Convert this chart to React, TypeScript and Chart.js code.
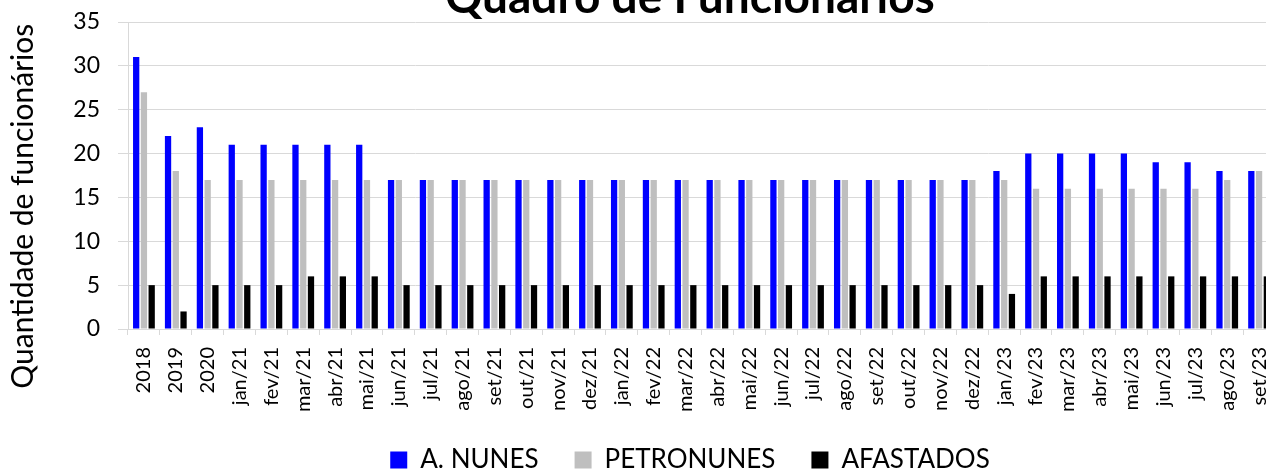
import React, { useEffect, useRef } from "react";
import { Chart, registerables } from "chart.js";

Chart.register(...registerables);

const categories = [
  "2018", "2019", "2020",
  "jan/21", "fev/21", "mar/21", "abr/21", "mai/21", "jun/21", "jul/21", "ago/21", "set/21", "out/21", "nov/21", "dez/21",
  "jan/22", "fev/22", "mar/22", "abr/22", "mai/22", "jun/22", "jul/22", "ago/22", "set/22", "out/22", "nov/22", "dez/22",
  "jan/23", "fev/23", "mar/23", "abr/23", "mai/23", "jun/23", "jul/23", "ago/23", "set/23",
];

const aNunes = [
  31, 22, 23,
  21, 21, 21, 21, 21, 17, 17, 17, 17, 17, 17, 17,
  17, 17, 17, 17, 17, 17, 17, 17, 17, 17, 17, 17,
  18, 20, 20, 20, 20, 19, 19, 18, 18,
];

const petronunes = [
  27, 18, 17,
  17, 17, 17, 17, 17, 17, 17, 17, 17, 17, 17, 17,
  17, 17, 17, 17, 17, 17, 17, 17, 17, 17, 17, 17,
  17, 16, 16, 16, 16, 16, 16, 17, 18,
];

const afastados = [
  5, 2, 5,
  5, 5, 6, 6, 6, 5, 5, 5, 5, 5, 5, 5,
  5, 5, 5, 5, 5, 5, 5, 5, 5, 5, 5, 5,
  4, 6, 6, 6, 6, 6, 6, 6, 6,
];

const seriesNames = ["A. NUNES", "PETRONUNES", "AFASTADOS"];
const seriesColors = ["#0000FF", "#BFBFBF", "#000000"];
const titleText = "Quadro de Funcionários";
const yTitleText = "Quantidade de funcionários";
const yMin = 0;
const yMax = 35;
const yStep = 5;

const FONT = "Lato";
const GRID = "#D9D9D9";
// invisible trailing spacing so the centred axis title sits lower, as in the original
const Y_TITLE_SHIFT = "\u00A0".repeat(8);

export default function App() {
  const canvasRef = useRef<HTMLCanvasElement | null>(null);

  useEffect(() => {
    if (!canvasRef.current) return;
    const chart = new Chart(canvasRef.current, {
      type: "bar",
      data: {
        labels: categories,
        datasets: [aNunes, petronunes, afastados].map((values, i) => ({
          label: seriesNames[i],
          data: values,
          backgroundColor: seriesColors[i],
          borderWidth: 0,
          categoryPercentage: 0.73,
          barPercentage: 0.81,
          yAxisID: "y",
        })),
      },
      options: {
        responsive: false,
        animation: false,
        devicePixelRatio: 1,
        layout: { padding: 0 },
        plugins: {
          tooltip: { enabled: false },
          title: {
            display: true,
            text: titleText,
            color: "#000000",
            font: { family: FONT, size: 46, weight: "bold", lineHeight: 1.0 },
            padding: { top: 5, bottom: 1 },
          },
          legend: {
            display: true,
            position: "bottom",
            labels: {
              color: "#000000",
              font: { family: FONT, size: 26 },
              boxWidth: 17,
              boxHeight: 17,
              padding: 36,
            },
          },
        },
        scales: {
          x: {
            offset: true,
            grid: {
              display: true,
              offset: true,
              drawOnChartArea: false,
              drawTicks: true,
              tickLength: 6,
              color: GRID,
            },
            border: { display: true, color: GRID },
            ticks: {
              autoSkip: false,
              minRotation: 90,
              maxRotation: 90,
              padding: 12,
              color: "#000000",
              font: { family: FONT, size: 20 },
            },
            afterFit: (scale: any) => {
              scale.height = 82;
            },
          },
          y: {
            position: "left",
            min: yMin,
            max: yMax,
            ticks: {
              stepSize: yStep,
              padding: 18,
              color: "#000000",
              font: { family: FONT, size: 23 },
            },
            grid: {
              color: GRID,
              drawTicks: true,
              tickLength: 10,
            },
            border: { display: true, color: GRID },
            title: {
              display: true,
              text: yTitleText + Y_TITLE_SHIFT,
              color: "#000000",
              font: { family: FONT, size: 30, lineHeight: 1.2 },
              padding: { top: 5, bottom: 0 },
            },
            afterFit: (scale: any) => {
              scale.width = 128;
            },
          },
          rightSpace: {
            type: "linear",
            position: "right",
            display: true,
            grid: { display: false, drawOnChartArea: false, drawTicks: false },
            border: { display: false },
            ticks: { display: false },
            afterFit: (scale: any) => {
              scale.width = 105;
            },
          },
        },
      },
    });
    return () => chart.destroy();
  }, []);

  return (
    <div
      style={{
        position: "fixed",
        left: 0,
        top: 0,
        width: 1266,
        height: 471,
        overflow: "hidden",
        background: "#ffffff",
      }}
    >
      <div style={{ position: "absolute", left: 0, top: -30, width: 1380, height: 513 }}>
        <canvas ref={canvasRef} width={1380} height={513} style={{ display: "block" }} />
      </div>
    </div>
  );
}
